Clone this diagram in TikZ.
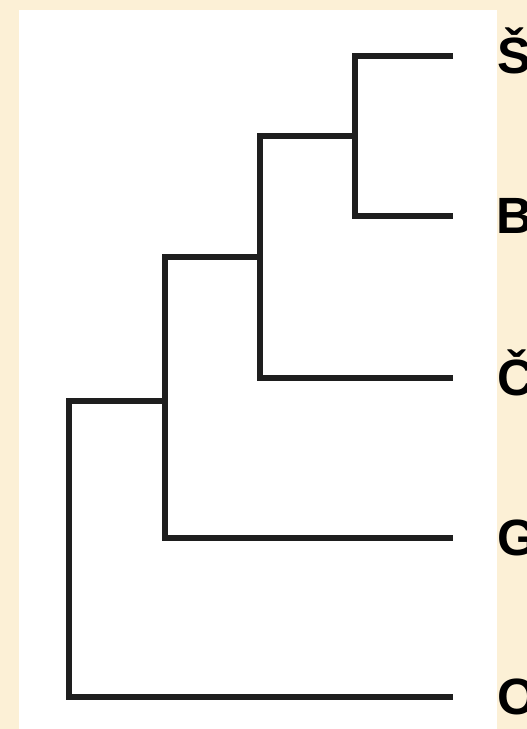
\documentclass[tikz,border=0pt]{standalone}
\usepackage{fontspec}
\setmainfont{Liberation Sans}
\usepackage{tikz}
\usepackage{xcolor}
\definecolor{parchment}{RGB}{252,240,214}
\definecolor{branchgray}{RGB}{30,30,30}

\tikzset{
    branch/.style={draw=branchgray, line width=5.5pt, line join=miter},
    leaflabel/.style={anchor=base west, inner sep=0pt, font=\fontsize{51}{51}\selectfont\bfseries}
}

\begin{document}
\begin{tikzpicture}[x=1pt, y=-1pt]
    % page and panel
    \useasboundingbox (0,0) rectangle (527,729);
    \clip (0,0) rectangle (527,729);
    \fill[parchment] (0,0) rectangle (527,729);
    \fill[white] (19,10) rectangle (497,729);

    % leaf tips
    \coordinate (tS) at (453,56);
    \coordinate (tB) at (453,216);
    \coordinate (tC) at (453,378);
    \coordinate (tG) at (453,538);
    \coordinate (tO) at (453,697);

    % inner splits
    \coordinate (n1) at (355,136);
    \coordinate (n2) at (260,257);
    \coordinate (n3) at (165,401);
    \coordinate (r) at (69,401);

    % labels
    \node[leaflabel] (lS) at (497,73) {Š};
    \node[leaflabel] (lB) at (496.5,233) {B};
    \node[leaflabel] (lC) at (497,395) {Č};
    \node[leaflabel] (lG) at (497,555) {G};
    \node[leaflabel] (lO) at (497,714) {O};

    % branches
    \draw[branch] (tS) -| (n1 |- tB) -- (tB);
    \draw[branch] (n1) -- (n1 -| n2) |- (tC);
    \draw[branch] (n2) -- (n2 -| n3) |- (tG);
    \draw[branch] (n3) -- (r) |- (tO);
\end{tikzpicture}
\end{document}
